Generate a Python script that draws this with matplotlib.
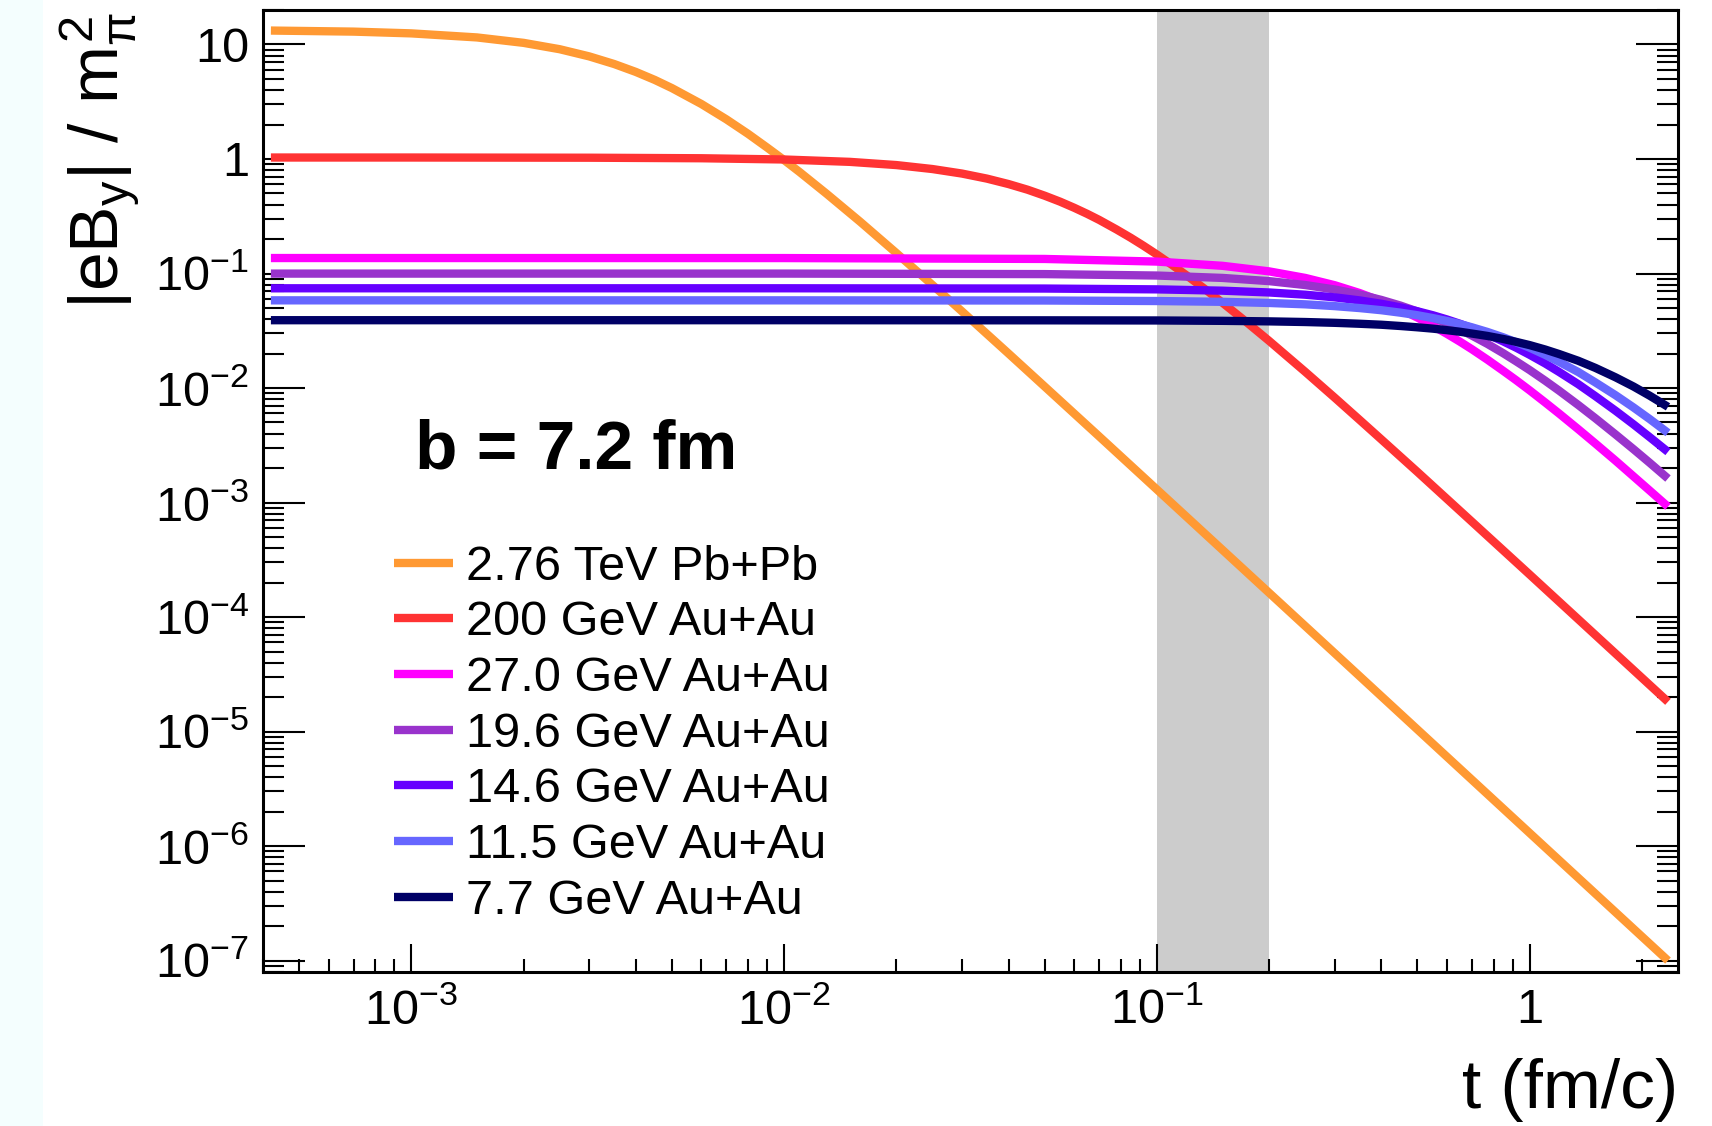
import matplotlib
matplotlib.use('Agg')
import matplotlib.pyplot as plt
import numpy as np
from matplotlib.ticker import LogLocator, FuncFormatter, NullFormatter
from matplotlib.patches import Rectangle

plt.rcParams['font.family'] = ['Liberation Sans', 'DejaVu Sans']
plt.rcParams['mathtext.fontset'] = 'custom'
plt.rcParams['mathtext.rm'] = 'Liberation Sans'
plt.rcParams['mathtext.it'] = 'Liberation Sans'
plt.rcParams['mathtext.bf'] = 'Liberation Sans:bold'

# values (t in fm/c, |eB_y| in m_pi^2)
t_pbpb = [4.2e-4, 7e-4, 1e-3, 1.5e-3, 2e-3, 2.5e-3, 3e-3, 3.5e-3, 4e-3, 4.5e-3, 5e-3, 6e-3,
          7e-3, 8e-3, 9e-3, 0.01, 0.011, 0.013, 0.016, 0.02, 0.025, 0.03, 0.04, 0.05,
          0.07, 0.1, 0.3, 1.0, 2.35]
b_2760 = [13.23, 12.95, 12.50, 11.52, 10.33, 9.09, 7.87, 6.75, 5.76, 4.90, 4.16, 3.02,
          2.22, 1.66, 1.26, 0.978, 0.770, 0.497, 0.283, 0.151, 0.0794, 0.0467, 0.0200, 0.0103,
          3.78e-3, 1.30e-3, 4.83e-5, 1.30e-6, 1.0e-7]

t_200 = [4.2e-4, 1e-3, 3e-3, 6e-3, 0.01, 0.015, 0.02, 0.025, 0.03, 0.035, 0.04, 0.045,
         0.05, 0.055, 0.06, 0.065, 0.07, 0.078, 0.085, 0.092, 0.1, 0.11, 0.12, 0.135,
         0.15, 0.17, 0.2, 0.25, 0.3, 0.35, 0.4, 0.5, 0.7, 1.0, 2.35]
b_200 = [1.030, 1.030, 1.026, 1.015, 0.990, 0.944, 0.885, 0.817, 0.746, 0.674, 0.604, 0.539,
         0.478, 0.424, 0.375, 0.332, 0.294, 0.242, 0.2055, 0.175, 0.1465, 0.1184, 0.0966, 0.0725,
         0.0555, 0.0400, 0.0258, 0.01385, 0.00823, 0.00526, 0.00356, 0.00185, 6.8e-4, 2.35e-4, 1.82e-5]

t_bes = [4.2e-4, 0.01, 0.05, 0.1, 0.15, 0.2, 0.25, 0.3, 0.35, 0.4, 0.45, 0.5, 0.55, 0.6,
         0.65, 0.7, 0.77, 0.85, 0.92, 1.0, 1.1, 1.2, 1.35, 1.5, 1.7, 1.9, 2.1, 2.35]
b_270 = [0.1365, 0.1364, 0.1340, 0.1271, 0.1167, 0.1044, 0.0915, 0.0790, 0.0675, 0.0573, 0.0486,
         0.0412, 0.0349, 0.0297, 0.0254, 0.0218, 0.0177, 0.0141, 0.0117, 0.00954, 0.00749,
         0.00598, 0.00437, 0.00328, 0.00232, 0.00169, 0.00127, 0.00092]
b_196 = [0.0998, 0.0998, 0.0988, 0.0960, 0.0915, 0.0858, 0.0793, 0.0725, 0.0655, 0.0588, 0.0525,
         0.0466, 0.0413, 0.0366, 0.0324, 0.0287, 0.0243, 0.0201, 0.0171, 0.01435, 0.0116,
         0.00947, 0.00711, 0.00545, 0.00393, 0.00292, 0.00222, 0.00162]
b_146 = [0.0743, 0.0743, 0.0739, 0.0727, 0.0708, 0.0683, 0.0653, 0.0619, 0.0582, 0.0544, 0.0506,
         0.0468, 0.0432, 0.0397, 0.0364, 0.0333, 0.0294, 0.0255, 0.0225, 0.0195, 0.0164,
         0.0138, 0.0108, 0.0085, 0.00633, 0.00481, 0.00372, 0.00277]
b_115 = [0.0583, 0.0583, 0.0581, 0.0575, 0.0566, 0.0553, 0.0538, 0.0519, 0.0499, 0.0478, 0.0455,
         0.0432, 0.0408, 0.0385, 0.0362, 0.0339, 0.0309, 0.0277, 0.0251, 0.0225, 0.0195,
         0.0169, 0.0138, 0.0112, 0.00865, 0.00676, 0.00535, 0.00406]
b_77 = [0.0391, 0.0391, 0.0390, 0.0389, 0.0386, 0.0382, 0.0377, 0.0371, 0.0364, 0.0357, 0.0348,
        0.0339, 0.0330, 0.0320, 0.0310, 0.0299, 0.0285, 0.0268, 0.0253, 0.0237, 0.0217,
        0.0198, 0.0173, 0.0150, 0.0124, 0.0103, 0.00856, 0.00685]

labels = ['2.76 TeV Pb+Pb', '200 GeV Au+Au', '27.0 GeV Au+Au', '19.6 GeV Au+Au',
          '14.6 GeV Au+Au', '11.5 GeV Au+Au', '7.7 GeV Au+Au']
colors = ['#ff9933', '#ff3333', '#ff00ff', '#9933cc', '#6600ff', '#6666ff', '#000066']
series = [(t_pbpb, b_2760), (t_200, b_200), (t_bes, b_270), (t_bes, b_196),
          (t_bes, b_146), (t_bes, b_115), (t_bes, b_77)]
band = (0.1, 0.2)

fig = plt.figure(figsize=(17.12, 11.26), dpi=100)
fig.patches.append(Rectangle((0, 0), 43 / 1712, 1, transform=fig.transFigure,
                             facecolor='#f4fefe', edgecolor='none', zorder=-1))
ax = fig.add_axes([263 / 1712, 154.3 / 1126, 1415 / 1712, 961.7 / 1126])

ax.axvspan(band[0], band[1], color='#cccccc', zorder=1, lw=0)
for (t, b), lab, c in zip(series, labels, colors):
    ax.plot(t, b, color=c, lw=6, label=lab, solid_capstyle='butt',
            solid_joinstyle='round', zorder=3)

ax.set_xscale('log')
ax.set_yscale('log')
ax.set_xlim(4e-4, 2.5)
ax.set_ylim(8e-8, 20)


def fmt(v, pos):
    e = int(round(np.log10(v)))
    if e == 0:
        return '1'
    if e == 1:
        return '10'
    return r'$10^{%d}$' % e


for axis in (ax.xaxis, ax.yaxis):
    axis.set_major_locator(LogLocator(base=10, numticks=20))
    axis.set_minor_locator(LogLocator(base=10, subs=np.arange(2, 10), numticks=20))
    axis.set_major_formatter(FuncFormatter(fmt))
    axis.set_minor_formatter(NullFormatter())

ax.tick_params(axis='x', which='major', direction='in', length=20, width=1.5,
               labelsize=35, pad=12, top=False)
ax.tick_params(axis='x', which='minor', direction='in', length=9.5, width=1.5, top=False)
ax.tick_params(axis='y', which='major', direction='in', length=30, width=1.5,
               labelsize=35, pad=10, right=True)
ax.tick_params(axis='y', which='minor', direction='in', length=15, width=1.5, right=True)
for s in ax.spines.values():
    s.set_linewidth(2.2)

ax.set_xlabel('t (fm/c)', fontsize=50, ha='right', va='baseline')
ax.xaxis.set_label_coords(1.0, -0.1417)
ax.set_ylabel(r'$|eB_{y}|$ / $m^{2}_{\pi}$', fontsize=50, ha='right', va='center')
ax.yaxis.set_label_coords(-0.115, 0.997)

ax.text(0.1074, 0.5235, 'b = 7.2 fm', transform=ax.transAxes, fontsize=50,
        fontweight='bold', ha='left', va='baseline')

ax.legend(loc='upper left', bbox_to_anchor=(0.0926, 0.444), frameon=False,
          fontsize=35, handlelength=1.22, handletextpad=0.27, labelspacing=0.22,
          borderpad=0, borderaxespad=0)

fig.savefig('out.png', dpi=100)
